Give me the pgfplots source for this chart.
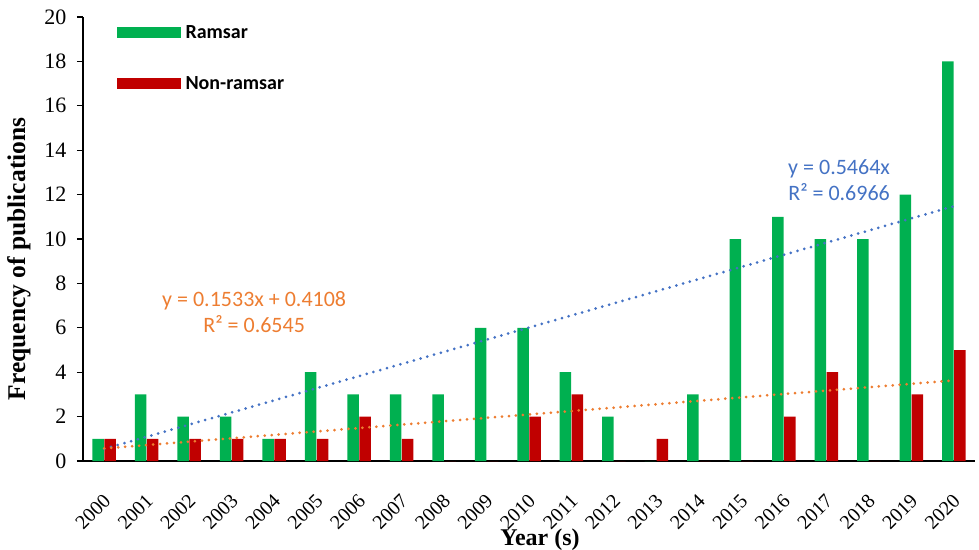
\documentclass[border=0pt]{standalone}
\usepackage{pgfplots}
\pgfplotsset{compat=1.18}
\usepackage{fontspec}
\setmainfont{Liberation Serif}
\newfontfamily\calibri{Carlito}

\definecolor{ramsar}{HTML}{00B050}
\definecolor{nonramsar}{HTML}{C00000}
\definecolor{trendblue}{HTML}{4472C4}
\definecolor{trendorange}{HTML}{ED7D31}

\begin{document}
\begin{tikzpicture}
\begin{axis}[
  scale only axis,
  width=892pt, height=444pt,
  xmin=0.5, xmax=21.5,
  ymin=0, ymax=20,
  axis x line*=bottom, axis y line*=left,
  axis line style={line width=1.6pt, -},
  tick align=outside,
  xtick={1,...,21},
  xticklabels={2000,2001,2002,2003,2004,2005,2006,2007,2008,2009,2010,2011,2012,2013,2014,2015,2016,2017,2018,2019,2020},
  x tick style={draw=none},
  minor xtick={0.5,1.5,...,21.5},
  minor x tick style={line width=1.4pt, black},
  minor tick length=7pt,
  ytick={0,2,...,20},
  y tick style={line width=1.2pt, black},
  major tick length=6pt,
  /pgf/number format/assume math mode=true,
  xticklabel style={font=\fontsize{20}{24}\selectfont, xshift=-2pt, yshift=-21pt, rotate=45, anchor=north east},
  yticklabel style={font=\fontsize{22}{26}\selectfont, xshift=-7pt},
  xlabel={\textbf{Year (s)}},
  ylabel={\textbf{Frequency of publications}},
  xlabel style={font=\fontsize{24}{28}\selectfont, at={(rel axis cs:0.5,0)}, anchor=north, yshift=-64pt, xshift=11pt},
  ylabel style={font=\fontsize{25.5}{30}\selectfont, at={(ticklabel cs:0.455)}, anchor=near ticklabel, yshift=7pt},
  bar width=11.5pt,
  legend style={at={(rel axis cs:0.034,0.99)}, anchor=north west, draw=none, fill=none,
    font=\calibri\bfseries\fontsize{20}{24}\selectfont, row sep=32pt,
    /tikz/every even column/.append style={column sep=4pt}},
  legend cell align=left,
  legend image code/.code={\fill[#1] (0pt,-5.5pt) rectangle (64pt,5.5pt);},
]
% Ramsar sites
\addplot[ybar, bar shift=-6pt, fill=ramsar, draw=none] coordinates {
  (1,1) (2,3) (3,2) (4,2) (5,1) (6,4) (7,3) (8,3) (9,3) (10,6) (11,6)
  (12,4) (13,2) (14,0) (15,3) (16,10) (17,11) (18,10) (19,10) (20,12) (21,18)};
\addlegendentry{\hspace{3pt}Ramsar}
% Non-Ramsar sites
\addplot[ybar, bar shift=6pt, fill=nonramsar, draw=none] coordinates {
  (1,1) (2,1) (3,1) (4,1) (5,1) (6,1) (7,2) (8,1) (9,0) (10,0) (11,2)
  (12,3) (13,0) (14,1) (15,0) (16,0) (17,2) (18,4) (19,0) (20,3) (21,5)};
\addlegendentry{\hspace{3pt}Non-ramsar}
% linear trend lines (y = 0.5464x and y = 0.1533x + 0.4108 at x = 1 and x = 21)
\addplot[forget plot, sharp plot, trendblue, line width=3pt, line cap=round,
  dash pattern=on 0pt off 7pt] coordinates {(1,0.5464) (21,11.4744)};
\addplot[forget plot, sharp plot, trendorange, line width=3pt, line cap=round,
  dash pattern=on 0pt off 7pt] coordinates {(1,0.5641) (21,3.6301)};
\node[trendblue, font=\calibri\fontsize{22}{26}\selectfont, align=center]
  at (axis cs:18.3,12.64) {y = 0.5464x\\R² = 0.6966};
\node[trendorange, font=\calibri\fontsize{22}{26}\selectfont, align=center]
  at (axis cs:4.53,6.71) {y = 0.1533x + 0.4108\\R² = 0.6545};
\end{axis}
\pgfresetboundingbox
\path[use as bounding box] (current axis.south west) ++(-83pt,-88pt)
  rectangle ([shift={(4pt,17pt)}]current axis.north east);
\end{tikzpicture}
\end{document}
